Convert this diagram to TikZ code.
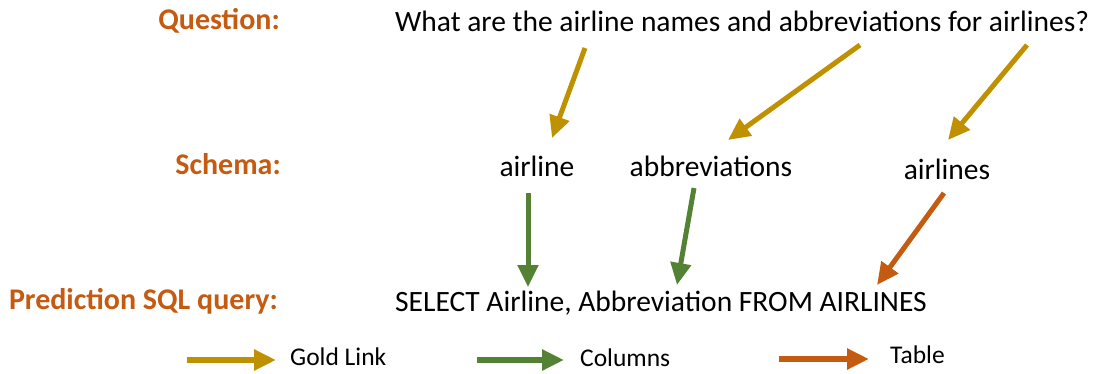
\documentclass[tikz,border=0pt]{standalone}
\usepackage{fontspec}
\setmainfont{Carlito}
\usetikzlibrary{arrows.meta}
\definecolor{goldlink}{HTML}{BF9000}
\definecolor{colgreen}{HTML}{548235}
\definecolor{taborange}{HTML}{C55A11}
\tikzset{
  rowlabel/.style={anchor=east, inner sep=0pt, text=taborange, font=\fontsize{30}{34}\selectfont\bfseries},
  body/.style={inner sep=0pt, font=\fontsize{29.5}{34}\selectfont},
  legendtext/.style={anchor=west, inner sep=0pt, font=\fontsize{25.5}{30}\selectfont},
  link/.style={line width=5pt, -{Triangle[length=22pt,width=20pt]}},
  goldarrow/.style={link, draw=goldlink, fill=goldlink},
  greenarrow/.style={link, draw=colgreen, fill=colgreen},
  orangearrow/.style={link, draw=taborange, fill=taborange},
}
\begin{document}
\begin{tikzpicture}[x=1pt,y=-1pt]
\useasboundingbox (0,0) rectangle (1102,374);

% row labels
\node[rowlabel] (lq) at (280,21) {Question:};
\node[rowlabel] (ls) at (281,164) {Schema:};
\node[rowlabel] (lp) at (278,301) {Prediction SQL query:};

% question, schema items, query
\node[body, anchor=west] (q) at (395,21) {What are the airline names and abbreviations for airlines?};
\node[body] (s1) at (537,166) {airline};
\node[body] (s2) at (711,166) {abbreviations};
\node[body] (s3) at (947,169) {airlines};
\node[body, anchor=west] (sql) at (395,303) {SELECT Airline, Abbreviation FROM AIRLINES};

% connector end points
\coordinate (q1) at (585,48);
\coordinate (q2) at (860,45);
\coordinate (q3) at (1027,45);
\coordinate (t1) at (552,138);
\coordinate (t2) at (728,140);
\coordinate (t3) at (948,140);
\coordinate (c1) at (528,193);
\coordinate (c2) at (694,188);
\coordinate (c3) at (944,193);
\coordinate (u1) at (528,287);
\coordinate (u2) at (677,285);
\coordinate (u3) at (877,285);

% gold links: question -> schema
\draw[goldarrow] (q1) -- (t1);
\draw[goldarrow] (q2) -- (t2);
\draw[goldarrow] (q3) -- (t3);
% columns and table: schema -> query
\draw[greenarrow] (c1) -- (u1);
\draw[greenarrow] (c2) -- (u2);
\draw[orangearrow] (c3) -- (u3);

% legend
\coordinate (g0) at (187,360);
\coordinate (g1) at (276,360);
\coordinate (k0) at (477,360);
\coordinate (k1) at (564,360);
\coordinate (o0) at (779,359);
\coordinate (o1) at (869,359);
\draw[goldarrow, line width=6pt] (g0) -- (g1);
\draw[greenarrow, line width=6pt] (k0) -- (k1);
\draw[orangearrow, line width=6pt] (o0) -- (o1);
\node[legendtext] (lg) at (290,357) {Gold Link};
\node[legendtext] (lc) at (580,358) {Columns};
\node[legendtext] (lt) at (890,355) {Table};
\end{tikzpicture}
\end{document}
